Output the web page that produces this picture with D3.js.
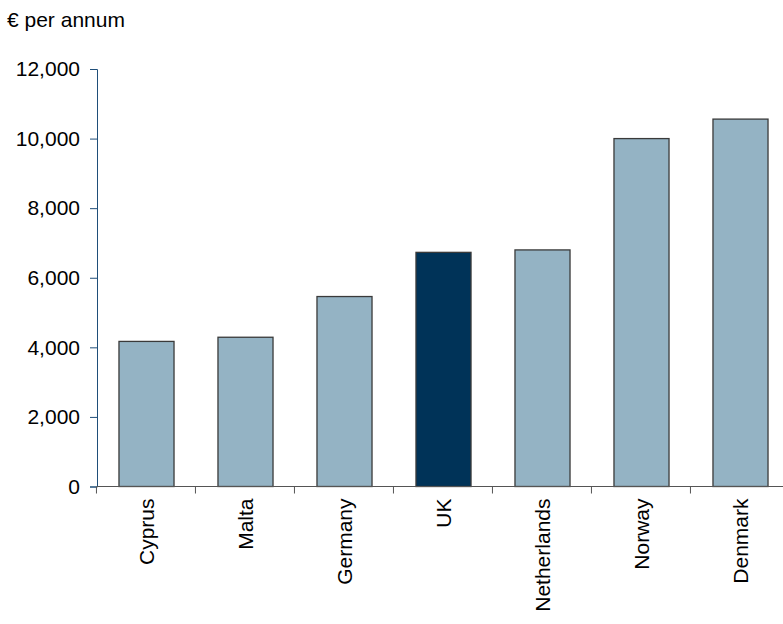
<!DOCTYPE html>
<html>
<head>
<meta charset="utf-8">
<script src="https://cdn.jsdelivr.net/npm/d3@7"></script>
<style>
  body { margin: 0; background: #fff; }
  text { font-family: "Liberation Sans", Arial, sans-serif; fill: #000; }
</style>
</head>
<body>
<svg id="chart" width="783" height="624"></svg>
<script>
// data
const countries = ['Cyprus', 'Malta', 'Germany', 'UK', 'Netherlands', 'Norway', 'Denmark'];
const values = [4170, 4290, 5460, 6730, 6800, 10000, 10560];
const yTicks = [0, 2000, 4000, 6000, 8000, 10000, 12000];
const highlight = 'UK';

const svg = d3.select('#chart');
const margin = {left: 97, top: 69, bottom: 138};
const height = 624;
const plotW = 693;
const fs = 21;

const x = d3.scaleBand()
    .domain(countries)
    .range([margin.left, margin.left + plotW])
    .paddingInner(0.444)
    .paddingOuter(0.222);

const y = d3.scaleLinear()
    .domain([0, 12000])
    .range([height - margin.bottom + 0.5, margin.top]);

// unit label
svg.append('text')
    .attr('x', 7)
    .attr('y', 27)
    .attr('font-size', fs)
    .text('€ per annum');

// bars
svg.append('g').selectAll('rect')
    .data(countries)
    .join('rect')
    .attr('x', d => x(d))
    .attr('width', x.bandwidth())
    .attr('y', (d, i) => y(values[i]))
    .attr('height', (d, i) => y(0) - y(values[i]))
    .attr('fill', d => d === highlight ? '#003358' : '#94b3c4')
    .attr('stroke', '#3a3a3a')
    .attr('stroke-width', 1.3);

// y axis
const yAxis = svg.append('g')
    .attr('transform', `translate(${margin.left},0)`)
    .call(d3.axisLeft(y).tickValues(yTicks).tickFormat(d3.format(',')).tickSizeOuter(0).tickSize(7).tickPadding(10));
yAxis.select('.domain').attr('stroke', '#1f4e79');
yAxis.selectAll('.tick line').attr('stroke', '#1f4e79');
yAxis.selectAll('.tick text').attr('font-size', fs).attr('font-family', '"Liberation Sans", Arial, sans-serif');

// x axis with ticks between categories
const xg = svg.append('g')
    .attr('transform', `translate(0,${y(0)})`);
xg.append('line')
    .attr('x1', margin.left).attr('x2', margin.left + plotW)
    .attr('stroke', '#555');
xg.selectAll('.sep')
    .data(countries)
    .join('line')
    .attr('x1', d => x(d) - x.bandwidth() * 0.4 - 0.5)
    .attr('x2', d => x(d) - x.bandwidth() * 0.4 - 0.5)
    .attr('y1', 0).attr('y2', 7)
    .attr('stroke', '#555');

xg.selectAll('.lbl')
    .data(countries)
    .join('text')
    .attr('transform', d => `translate(${x(d) + x.bandwidth() / 2 + 7},${12}) rotate(-90)`)
    .attr('text-anchor', 'end')
    .attr('font-size', fs)
    .text(d => d);
</script>
</body>
</html>
